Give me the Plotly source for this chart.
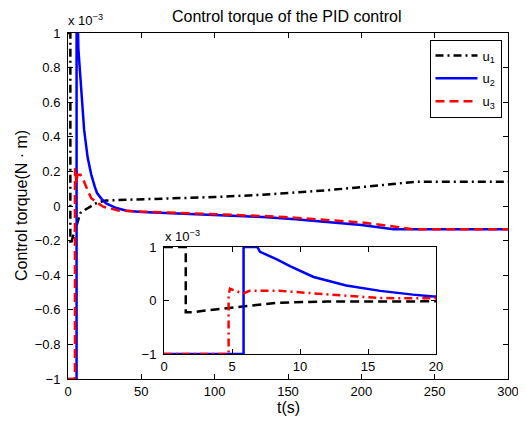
import plotly.graph_objects as go

# values in units of 1e-3 N*m (axis shows "x 10^-3")
t_u1 = [0, 1.6, 1.6, 2.2, 2.9, 4.7, 6.3, 8.5, 12, 16, 20, 26, 44, 67, 100, 131, 156, 178, 201, 224, 237, 250, 300]
u1 = [1.0, 1.0, -0.22, -0.22, -0.19, -0.14, -0.09, -0.04, -0.02, 0.0, 0.02, 0.032, 0.036, 0.044, 0.052, 0.064, 0.077, 0.092, 0.11, 0.13, 0.14, 0.14, 0.14]

t_u2 = [0, 5.85, 5.85, 6.86, 7.06, 8.3, 9.3, 11, 13.4, 15.9, 18.3, 19.8, 23, 26, 33, 40, 50, 75, 100, 133, 155, 178, 200, 222, 250, 300]
u2 = [-1.0, -1.0, 1.0, 1.0, 0.91, 0.77, 0.64, 0.44, 0.28, 0.18, 0.11, 0.075, 0.04, 0.015, -0.012, -0.027, -0.035, -0.043, -0.05, -0.064, -0.077, -0.092, -0.11, -0.135, -0.135, -0.135]

t_u3 = [0, 4.75, 4.75, 4.85, 5.8, 6.3, 8.5, 11, 13.4, 15.9, 19.8, 24, 35, 50, 100, 133, 155, 178, 200, 222, 235, 250, 300]
u3 = [-1.0, -1.0, 0.1, 0.22, 0.13, 0.18, 0.18, 0.14, 0.09, 0.045, 0.02, -0.004, -0.027, -0.032, -0.045, -0.058, -0.068, -0.08, -0.095, -0.118, -0.135, -0.135, -0.135]

main_xticks = [0, 50, 100, 150, 200, 250, 300]
main_yticks = [-1, -0.8, -0.6, -0.4, -0.2, 0, 0.2, 0.4, 0.6, 0.8, 1]
inset_xticks = [0, 5, 10, 15, 20]
inset_yticks = [-1, 0, 1]

# page body has an 8px margin: figure occupies window pixels 8..526 / 8..423
OFF = 8
W, H = 526 - OFF, 423 - OFF
L, R, T, B = 68, 508, 33, 379  # plot area in window pixels


def px(x):
    return (x - L) / (R - L)


def py(y):
    return (B - y) / (B - T)


FONT = "Arial"
LW = 2.5
DASHDOT = "8px,4px,2px,4px"
DASH = "9px,5px"

fig = go.Figure()
fig.add_trace(go.Scatter(x=t_u1, y=u1, mode="lines", name="u<sub>1</sub>", legendgroup="a",
                         line=dict(color="black", width=LW, dash=DASHDOT)))
fig.add_trace(go.Scatter(x=t_u2, y=u2, mode="lines", name="u<sub>2</sub>", legendgroup="b",
                         line=dict(color="#0000ff", width=LW)))
fig.add_trace(go.Scatter(x=t_u3, y=u3, mode="lines", name="u<sub>3</sub>", legendgroup="c",
                         line=dict(color="#ff0000", width=LW, dash=DASH)))

# inset (same data, zoomed)
fig.add_trace(go.Scatter(x=t_u1, y=u1, mode="lines", showlegend=False, xaxis="x2", yaxis="y2",
                         line=dict(color="black", width=LW, dash=DASH)))
fig.add_trace(go.Scatter(x=t_u2, y=u2, mode="lines", showlegend=False, xaxis="x2", yaxis="y2",
                         line=dict(color="#0000ff", width=LW)))
fig.add_trace(go.Scatter(x=t_u3, y=u3, mode="lines", showlegend=False, xaxis="x2", yaxis="y2",
                         line=dict(color="#ff0000", width=LW, dash=DASHDOT)))

axis_common = dict(showline=True, linecolor="black", linewidth=1, mirror="allticks",
                   ticks="inside", ticklen=5, tickcolor="black", showgrid=False, zeroline=False,
                   tickfont=dict(family=FONT, size=13, color="black"))

fig.update_layout(
    width=W, height=H,
    margin=dict(l=L - OFF, r=(W + OFF) - R, t=T - OFF, b=(H + OFF) - B, autoexpand=False, pad=0),
    paper_bgcolor="white", plot_bgcolor="white",
    font=dict(family=FONT, size=13, color="black"),
    xaxis=dict(range=[0, 300], tickvals=main_xticks, domain=[0, 1], anchor="y", **axis_common),
    yaxis=dict(range=[-1, 1], tickvals=main_yticks, domain=[0, 1], anchor="x",
               ticklabelstandoff=4, **axis_common),
    xaxis2=dict(range=[0, 20], tickvals=inset_xticks, domain=[px(164), px(436)], anchor="y2", **axis_common),
    yaxis2=dict(range=[-1, 1], tickvals=inset_yticks, domain=[py(354), py(247)], anchor="x2",
                ticklabelstandoff=4, **axis_common),
    legend=dict(x=px(501.5), y=py(39.5), xanchor="right", yanchor="top",
                bgcolor="white", bordercolor="black", borderwidth=1, tracegroupgap=3,
                font=dict(family=FONT, size=13, color="black"), itemwidth=42),
    showlegend=True,
    annotations=[
        dict(text="Control torque of the PID control", x=px(286.5), y=py(16), xref="paper", yref="paper",
             xanchor="center", yanchor="middle", showarrow=False, font=dict(family=FONT, size=16)),
        dict(text="x 10<sup>\u22123</sup>", x=px(66), y=py(20), xref="paper", yref="paper",
             xanchor="left", yanchor="middle", showarrow=False, font=dict(family=FONT, size=13)),
        dict(text="x 10<sup>\u22123</sup>", x=px(163), y=py(236), xref="paper", yref="paper",
             xanchor="left", yanchor="middle", showarrow=False, font=dict(family=FONT, size=13)),
        dict(text="Control torque(N \u00b7 m)", x=px(21), y=py(206), xref="paper", yref="paper",
             xanchor="center", yanchor="middle", textangle=-90, showarrow=False, font=dict(family=FONT, size=16)),
        dict(text="t(s)", x=px(288), y=py(407), xref="paper", yref="paper",
             xanchor="center", yanchor="middle", showarrow=False, font=dict(family=FONT, size=16)),
    ],
)

fig.write_html("out.html")
